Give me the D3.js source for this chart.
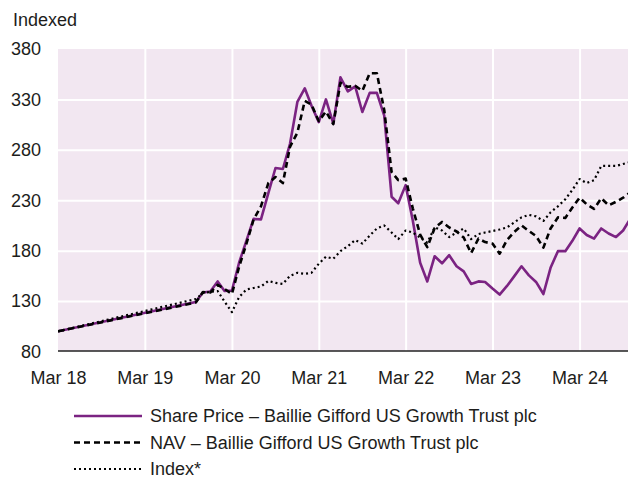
<!DOCTYPE html>
<html>
<head>
<meta charset="utf-8">
<script src="https://cdn.jsdelivr.net/npm/d3@7"></script>
<style>
  html, body { margin: 0; padding: 0; background: #fff; }
  svg { display: block; font-family: 'Liberation Sans', Arial, Helvetica, sans-serif; }
</style>
</head>
<body>
<svg class="line-chart"></svg>
<script>
// month-end observations; the first point is the launch month
const months = [
  '2018-03',
  '2019-10', '2019-11', '2019-12',
  '2020-01', '2020-02', '2020-03', '2020-04', '2020-05', '2020-06',
  '2020-07', '2020-08', '2020-09', '2020-10', '2020-11', '2020-12',
  '2021-01', '2021-02', '2021-03', '2021-04', '2021-05', '2021-06',
  '2021-07', '2021-08', '2021-09', '2021-10', '2021-11', '2021-12',
  '2022-01', '2022-02', '2022-03', '2022-04', '2022-05', '2022-06',
  '2022-07', '2022-08', '2022-09', '2022-10', '2022-11', '2022-12',
  '2023-01', '2023-02', '2023-03', '2023-04', '2023-05', '2023-06',
  '2023-07', '2023-08', '2023-09', '2023-10', '2023-11', '2023-12',
  '2024-01', '2024-02', '2024-03', '2024-04', '2024-05', '2024-06',
  '2024-07', '2024-08', '2024-09', '2024-10',
];

const sharePrice = [
  100,
  129, 138.5, 139.5,
  149.5, 140, 140.5, 168, 190, 211.5,
  211, 237, 262, 261, 286, 327.5,
  341, 324, 307.5, 330, 306, 352,
  338, 343, 317.5, 336.5, 336.5, 314,
  233.5, 227, 245, 210, 168, 149.5,
  174.5, 167.5, 175.5, 164.5, 159.5, 147,
  149.5, 149, 142.5, 136.5, 145, 154.5,
  164.5, 155.5, 149, 137, 163, 179.5,
  179.5, 189.5, 202, 195.5, 192, 202,
  197, 193.5, 200, 212,
];

const nav = [
  100,
  128.5, 139, 138.5,
  146, 142, 137, 164, 187, 211,
  224, 247, 253, 247, 283, 297,
  328.5, 325, 308.5, 318, 305.5, 346.5,
  342.5, 343.5, 338.5, 356, 356, 319.5,
  258, 250, 251.5, 222, 196, 183.5,
  202.5, 208.5, 203, 199, 193, 177.5,
  192, 188.5, 187, 177, 190.5, 198.5,
  205, 199.5, 194.5, 183, 202, 213,
  212.5, 222.5, 232.5, 226, 221.5, 232,
  225, 228.5, 232.5, 238,
];

const indexSeries = [
  100,
  132, 138, 139,
  140, 129.5, 119, 134, 141.5, 143,
  144.5, 150, 148, 147, 155, 158,
  157, 158, 167, 174, 172, 179.5,
  184.5, 190.5, 187, 195, 202, 205,
  198, 191.5, 200, 198, 193, 188,
  203, 200, 193.5, 198, 202, 191.5,
  196.5, 198, 199.5, 201, 203, 208,
  213, 215.5, 214, 209.5, 218, 224,
  231, 240, 251, 247, 250, 264,
  264, 264, 266, 268,
];

const tickMonths = ['2018-03', '2019-03', '2020-03', '2021-03', '2022-03', '2023-03', '2024-03'];
const tickLabels = ['Mar 18', 'Mar 19', 'Mar 20', 'Mar 21', 'Mar 22', 'Mar 23', 'Mar 24'];
const yTicks = [80, 130, 180, 230, 280, 330, 380];

const seriesNames = [
  'Share Price \u2013 Baillie Gifford US Growth Trust plc',
  'NAV \u2013 Baillie Gifford US Growth Trust plc',
  'Index*',
];

const width = 628;
const height = 479;
const margin = { top: 49, right: 0, bottom: 128, left: 58 };
const purple = '#7b2382';
const ink = '#1d1d1b';

const parseMonth = d3.utcParse('%Y-%m');
const monthEnd = (s) => d3.utcDay.offset(d3.utcMonth.offset(parseMonth(s), 1), -1);

const dates = months.map(monthEnd);
const series = [
  { name: seriesNames[0], values: sharePrice, stroke: purple, width: 2.6, dash: null },
  { name: seriesNames[1], values: nav, stroke: '#000', width: 2.6, dash: '6,4' },
  { name: seriesNames[2], values: indexSeries, stroke: '#000', width: 2.2, dash: '2,3' },
];

const plotBottom = height - margin.bottom;

const x = d3.scaleUtc()
  .domain([monthEnd('2018-03'), monthEnd('2024-10')])
  .range([margin.left, 630.5]);

const y = d3.scaleLinear()
  .domain([80, 380])
  .range([plotBottom + 0.5, margin.top]);

const svg = d3.select('.line-chart')
  .attr('width', width)
  .attr('height', height)
  .attr('viewBox', [0, 0, width, height]);

svg.append('defs').append('clipPath')
  .attr('id', 'plot-clip')
  .append('rect')
  .attr('x', margin.left)
  .attr('y', margin.top - 5)
  .attr('width', width - margin.left)
  .attr('height', plotBottom - margin.top + 10);

// plot background
svg.append('rect')
  .attr('x', margin.left)
  .attr('y', margin.top)
  .attr('width', width - margin.left - margin.right)
  .attr('height', plotBottom - margin.top)
  .attr('fill', '#f2e7f1');

const tickDates = tickMonths.map(monthEnd);

const xAxis = (g) => g
  .attr('transform', `translate(0,${plotBottom})`)
  .call(d3.axisBottom(x)
    .tickValues(tickDates)
    .tickFormat((d, i) => tickLabels[i])
    .tickSize(0)
    .tickPadding(20))
  .call((g) => g.select('.domain').remove())
  .call((g) => g.selectAll('.tick')
    .filter((d, i) => i > 0)
    .append('line')
    .attr('y1', 0)
    .attr('y2', margin.top - plotBottom)
    .attr('stroke', '#fff')
    .attr('stroke-width', 2));

const yAxis = (g) => g
  .attr('transform', `translate(${margin.left},0)`)
  .call(d3.axisLeft(y)
    .tickValues(yTicks)
    .tickSize(0)
    .tickPadding(17))
  .call((g) => g.select('.domain').remove())
  .call((g) => g.selectAll('.tick')
    .filter((d) => d > 80 && d < 380)
    .append('line')
    .attr('x1', 0)
    .attr('x2', width - margin.left)
    .attr('stroke', '#fff')
    .attr('stroke-width', 2));

svg.append('g').call(xAxis);
svg.append('g').call(yAxis);

svg.selectAll('.tick text')
  .attr('font-size', 18)
  .attr('fill', ink);

svg.selectAll('.tick line').lower();

// baseline
svg.append('line')
  .attr('x1', margin.left)
  .attr('x2', width)
  .attr('y1', plotBottom)
  .attr('y2', plotBottom)
  .attr('stroke', '#222')
  .attr('stroke-width', 1.4);

svg.append('text')
  .attr('x', 13)
  .attr('y', 26)
  .attr('font-size', 18)
  .attr('fill', ink)
  .text('Indexed');

const line = d3.line()
  .x((d) => x(d.t))
  .y((d) => y(d.v));

svg.append('g')
  .attr('clip-path', 'url(#plot-clip)')
  .selectAll('path')
  .data(series)
  .join('path')
  .attr('fill', 'none')
  .attr('stroke', (s) => s.stroke)
  .attr('stroke-width', (s) => s.width)
  .attr('stroke-dasharray', (s) => s.dash)
  .attr('stroke-linejoin', 'round')
  .attr('d', (s) => line(s.values.map((v, i) => ({ t: dates[i], v }))));

// legend
const legend = svg.append('g')
  .selectAll('g')
  .data(series)
  .join('g')
  .attr('transform', (s, i) => `translate(74,${416 + i * 26.5})`);

legend.append('line')
  .attr('x1', 0)
  .attr('x2', 68)
  .attr('stroke', (s) => s.stroke)
  .attr('stroke-width', (s) => s.width)
  .attr('stroke-dasharray', (s) => s.dash);

legend.append('text')
  .attr('x', 76)
  .attr('dy', '0.35em')
  .attr('font-size', 18)
  .attr('fill', ink)
  .text((s) => s.name);
</script>
</body>
</html>
